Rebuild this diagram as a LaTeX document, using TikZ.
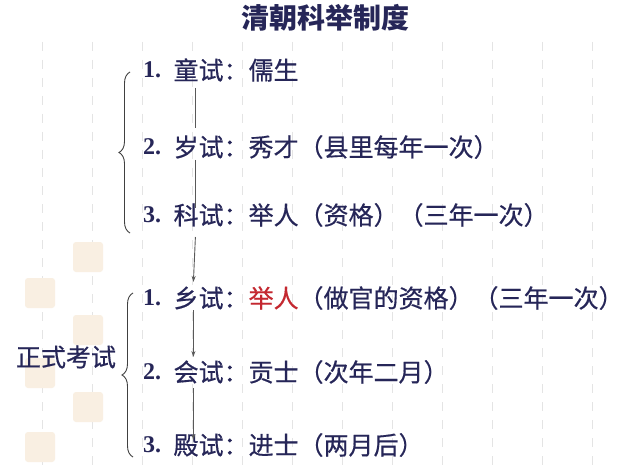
\documentclass[tikz,border=0pt]{standalone}
\usepackage{fontspec}
\usepackage{xcolor}
\usepackage{tikz}
\usetikzlibrary{positioning,calc,decorations.pathreplacing,arrows.meta}
\newfontfamily\hei{Noto Sans CJK SC}
\newfontfamily\heim[FakeBold=0.5]{Noto Sans CJK SC}
\newfontfamily\numserif{Liberation Serif}
\definecolor{ink}{RGB}{38,38,88}
\definecolor{jured}{RGB}{196,40,48}
\definecolor{stamp}{RGB}{249,239,226}
\definecolor{gridgray}{RGB}{228,228,228}

\begin{document}
\begin{tikzpicture}[x=1pt, y=-1pt,
    item/.style={inner sep=0pt, anchor=west, text=ink, font=\heim\fontsize{25}{30}\selectfont},
    num/.style={inner sep=0pt, anchor=west, text=ink, font=\numserif\bfseries\fontsize{24}{30}\selectfont},
    link/.style={draw=black!65, line width=0.9pt},
    flow/.style={link, -{Stealth[length=6pt,width=4pt]}},
    curly/.style={draw=black!75, line width=0.9pt, decorate, decoration={brace, amplitude=11pt}}]

    % Page and background
    \useasboundingbox (0,0) rectangle (640,468);
    \fill[white] (0,0) rectangle (640,468);
    \foreach \x in {42,92,...,592}
        \draw[gridgray, line width=1pt, dash pattern=on 9pt off 9pt] (\x,42) -- (\x,468);
    \foreach \x/\y in {88/257,40/293,88/330,40/373,88/407,40/447}
        \fill[stamp, rounded corners=3pt] (\x-15,\y-15) rectangle (\x+15,\y+15);

    % Title
    \node[text=ink, font=\hei\bfseries\fontsize{28}{32}\selectfont] (title) at (325,18) {清朝科举制度};

    % Preliminary exams
    \node[num] (n1) at (143,70) {1.};
    \node[item, right=12pt of n1] (tong) {童试：儒生};
    \node[num] (n2) at (143,147) {2.};
    \node[item, right=12pt of n2] (sui) {岁试：秀才（县里每年一次）};
    \node[num] (n3) at (143,215) {3.};
    \node[item, right=12pt of n3] (ke) {科试：举人（资格）（三年一次）};

    % Formal exams
    \node[num] (n4) at (143,298) {1.};
    \node[item, right=12pt of n4] (xiang) {乡试：\textcolor{jured}{举人}（做官的资格）（三年一次）};
    \node[num] (n5) at (143,372) {2.};
    \node[item, right=12pt of n5] (hui) {会试：贡士（次年二月）};
    \node[num] (n6) at (143,445) {3.};
    \node[item, right=12pt of n6] (dian) {殿试：进士（两月后）};

    \node[item, anchor=center] (zhengshi) at (66,357) {正式考试};

    % Braces
    \draw[curly] (130,233) -- (130,72);
    \draw[curly] (133,457) -- (133,293);

    % Progression
    \draw[link] ([xshift=22pt,yshift=-18pt]tong.west) -- ([xshift=22pt,yshift=19pt]sui.west);
    \draw[link] ([xshift=22pt,yshift=-13pt]sui.west) -- ([xshift=22pt,yshift=7pt]ke.west);
    \draw[flow] ([xshift=22pt,yshift=-22pt]ke.west) -- ([xshift=20pt,yshift=16pt]xiang.west);
    \draw[flow] ([xshift=20pt,yshift=-12pt]xiang.west) -- ([xshift=20pt,yshift=15pt]hui.west);
    \draw[flow] ([xshift=20pt,yshift=-16pt]hui.west) -- ([xshift=20pt,yshift=5pt]dian.west);
\end{tikzpicture}
\end{document}
